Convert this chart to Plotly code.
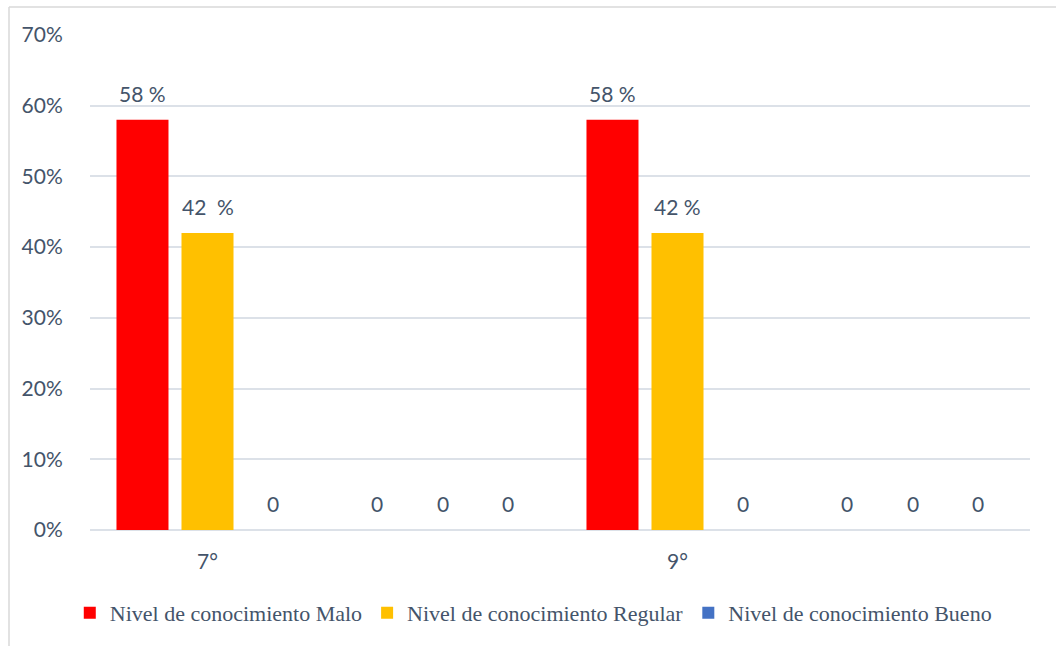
import plotly.graph_objects as go

# Category slots along the x axis (blank slots keep the spacing of the groups)
categories = ["7°", " ", "9°", "  "]

series_names = [
    "Nivel de conocimiento Malo",
    "Nivel de conocimiento Regular",
    "Nivel de conocimiento Bueno",
]
malo = [0.58, 0.0, 0.58, 0.0]
regular = [0.42, 0.0, 0.42, 0.0]
bueno = [0.0, 0.0, 0.0, 0.0]

malo_labels = ["58 %", "0", "58 %", "0"]
regular_labels = ["42  %", "0", "42 %", "0"]
bueno_labels = ["0", "0", "0", "0"]

y_ticks = [0, 0.1, 0.2, 0.3, 0.4, 0.5, 0.6, 0.7]

colors = ["#FF0000", "#FFC000", "#4472C4"]
text_color = "#44546A"
grid_color = "#DCE1E8"

W, H = 1056, 646
M_L, M_R, M_T, M_B = 90, 26, 35, 116
BARGAP, BARGROUPGAP = 0.17, 0.2
NUM_FONT = 21

values = [malo, regular, bueno]
labels = [malo_labels, regular_labels, bueno_labels]

fig = go.Figure()
for name, vals, col in zip(series_names, values, colors):
    fig.add_trace(go.Bar(
        x=categories, y=vals, name=name,
        marker=dict(color=col, line=dict(width=0)),
        hoverinfo="skip",
    ))

# Data labels sit above each bar, shifted to the bar's slot within its group
plot_w = W - M_L - M_R
cat_w = plot_w / len(categories)
slot_w = cat_w * (1 - BARGAP) / len(series_names)
annotations = []
for i, (vals, labs) in enumerate(zip(values, labels)):
    shift = (i - (len(series_names) - 1) / 2) * slot_w
    for cat, v, lab in zip(categories, vals, labs):
        annotations.append(dict(
            x=cat, y=v, xref="x", yref="y", text=lab, showarrow=False,
            xanchor="center", yanchor="bottom", xshift=shift, yshift=12,
            font=dict(family="Lato", size=NUM_FONT, color=text_color),
        ))

# Light frame around the chart area
x0 = (9 - M_L) / plot_w
plot_h = H - M_T - M_B
y_top = 1 + (M_T - 7) / plot_h
shapes = [
    dict(type="line", xref="paper", yref="paper", x0=x0, x1=x0,
         y0=-(M_B + 5) / plot_h, y1=y_top, line=dict(color="#D9D9D9", width=1.5)),
    dict(type="line", xref="paper", yref="paper", x0=x0, x1=(W - M_L + 5) / plot_w,
         y0=y_top, y1=y_top, line=dict(color="#D9D9D9", width=1.5)),
]

fig.update_layout(
    width=W, height=H,
    margin=dict(l=M_L, r=M_R, t=M_T, b=M_B, autoexpand=False),
    paper_bgcolor="white", plot_bgcolor="white",
    barmode="group", bargap=BARGAP, bargroupgap=BARGROUPGAP,
    font=dict(family="Lato", size=NUM_FONT, color=text_color),
    annotations=annotations,
    shapes=shapes,
    showlegend=True,
    legend=dict(
        orientation="h", xref="container", yref="container",
        x=0.505, y=(H - 613) / H, xanchor="center", yanchor="middle",
        font=dict(family="Liberation Serif", size=22, color=text_color),
        itemwidth=30, traceorder="normal",
    ),
    xaxis=dict(
        showgrid=False, showline=False, zeroline=False,
        ticks="outside", ticklen=13, tickcolor="rgba(0,0,0,0)",
        tickfont=dict(family="Lato", size=NUM_FONT, color=text_color),
    ),
    yaxis=dict(
        range=[0, 0.7], tickvals=y_ticks, tickformat=".0%",
        showgrid=True, gridcolor=grid_color, gridwidth=1.5,
        zeroline=True, zerolinecolor=grid_color, zerolinewidth=1.5,
        showline=False,
        ticks="outside", ticklen=22, tickcolor="rgba(0,0,0,0)",
        tickfont=dict(family="Lato", size=NUM_FONT, color=text_color),
    ),
)

fig.write_html("out.html")
